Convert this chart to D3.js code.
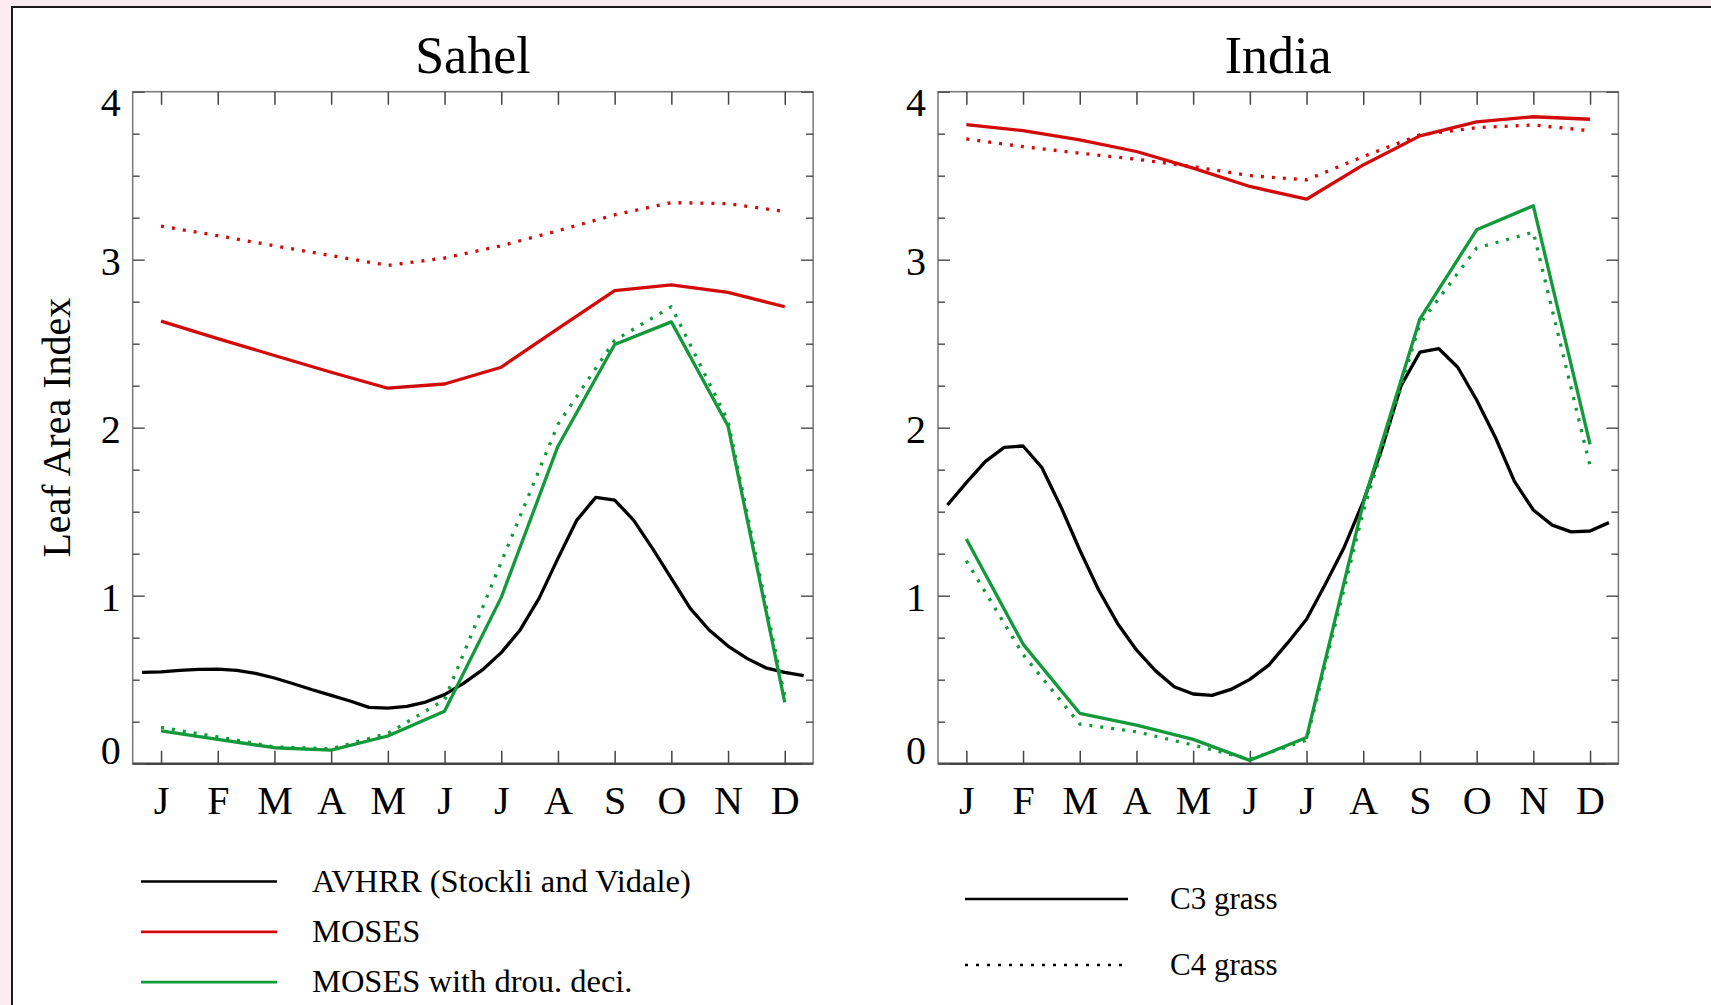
<!DOCTYPE html>
<html>
<head>
<meta charset="utf-8">
<script src="https://cdn.jsdelivr.net/npm/d3@7"></script>
<style>
  html, body { margin: 0; padding: 0; background: #fcecf1; overflow: hidden; }
  svg { display: block; }
  text { font-family: 'Liberation Serif', 'Times New Roman', serif; fill: #000; }
</style>
</head>
<body>
<div id="chart"></div>
<script>
// month tick labels + y ticks
const months = ['J', 'F', 'M', 'A', 'M', 'J', 'J', 'A', 'S', 'O', 'N', 'D'];
const yTicks = [0, 1, 2, 3, 4];

// AVHRR is dekadal: 36 values, first one a third of a month before J
const sahelAvhrr = [0.544, 0.546, 0.556, 0.562, 0.563, 0.556, 0.538, 0.51, 0.476, 0.44,
  0.407, 0.373, 0.335, 0.331, 0.341, 0.367, 0.411, 0.478, 0.558, 0.661,
  0.796, 0.984, 1.222, 1.45, 1.585, 1.569, 1.45, 1.282, 1.103, 0.925,
  0.796, 0.70, 0.627, 0.571, 0.544, 0.524];
const indiaAvhrr = [1.54, 1.673, 1.798, 1.883, 1.891, 1.762, 1.53, 1.272, 1.034, 0.835,
  0.677, 0.554, 0.458, 0.415, 0.407, 0.442, 0.502, 0.587, 0.719, 0.86,
  1.07, 1.29, 1.56, 1.88, 2.25, 2.45, 2.47, 2.36, 2.165, 1.94,
  1.68, 1.51, 1.42, 1.38, 1.385, 1.435];

// MOSES (red), monthly
const sahelMosesC3 = [2.634, 2.53, 2.43, 2.33, 2.235, 2.26, 2.36, 2.59, 2.816, 2.85, 2.806, 2.72];
const sahelMosesC4 = [3.2, 3.143, 3.083, 3.024, 2.966, 3.01, 3.083, 3.172, 3.267, 3.34, 3.333, 3.287];
const indiaMosesC3 = [3.804, 3.768, 3.713, 3.644, 3.545, 3.436, 3.36, 3.564, 3.737, 3.82, 3.851, 3.836];
const indiaMosesC4 = [3.719, 3.673, 3.634, 3.598, 3.554, 3.5, 3.475, 3.614, 3.743, 3.786, 3.802, 3.768];

// MOSES with drought deciduous (green), monthly
const sahelDroughtC3 = [0.196, 0.145, 0.095, 0.081, 0.165, 0.312, 0.99, 1.89, 2.495, 2.63, 2.01, 0.365];
const sahelDroughtC4 = [0.216, 0.16, 0.1, 0.089, 0.18, 0.38, 1.2, 2.02, 2.52, 2.72, 2.04, 0.4];
const indiaDroughtC3 = [1.337, 0.712, 0.30, 0.23, 0.145, 0.02, 0.156, 1.55, 2.648, 3.178, 3.321, 1.901];
const indiaDroughtC4 = [1.208, 0.65, 0.236, 0.19, 0.111, 0.026, 0.14, 1.5, 2.62, 3.069, 3.164, 1.772];

// legends
const seriesLabels = ['AVHRR (Stockli and Vidale)', 'MOSES', 'MOSES with drou. deci.'];
const grassLabels = ['C3 grass', 'C4 grass'];

//////////////////////////////////////////////////////////////////////////////

const width = 1711;
const height = 1005;
const plotTop = 91.7;
const plotBottom = 763.7;
const plotWidth = 680.4;

const red = '#d20a0a';
const green = '#11993a';
const dotted = '3,8';

const svg = d3.select('#chart').append('svg')
  .attr('width', width)
  .attr('height', height);

// outer frame (runs off the right / bottom edge)
svg.append('rect')
  .attr('x', 12).attr('y', 7)
  .attr('width', width).attr('height', height)
  .attr('fill', '#fff')
  .attr('stroke', '#1a1a1a')
  .attr('stroke-width', 2);

const yScale = d3.scaleLinear().domain([0, 4]).range([plotBottom, plotTop]);

const panels = [
  { title: 'Sahel', left: 132.7, avhrr: sahelAvhrr, c3: sahelMosesC3, c4: sahelMosesC4, dc3: sahelDroughtC3, dc4: sahelDroughtC4 },
  { title: 'India', left: 938, avhrr: indiaAvhrr, c3: indiaMosesC3, c4: indiaMosesC4, dc3: indiaDroughtC3, dc4: indiaDroughtC4 }
];

function drawPanel(p) {
  const xScale = d3.scaleLinear()
    .domain([0.5, 12.5])
    .range([p.left, p.left + plotWidth]);

  const g = svg.append('g');

  // title
  g.append('text')
    .attr('x', p.left + plotWidth / 2)
    .attr('y', 73)
    .attr('text-anchor', 'middle')
    .style('font-size', '52px')
    .text(p.title);

  // box
  g.append('rect')
    .attr('x', p.left).attr('y', plotTop)
    .attr('width', plotWidth).attr('height', plotBottom - plotTop)
    .attr('fill', 'none')
    .attr('stroke', '#777')
    .attr('stroke-width', 1.5);
  g.append('line')
    .attr('x1', p.left).attr('x2', p.left + plotWidth)
    .attr('y1', plotBottom).attr('y2', plotBottom)
    .attr('stroke', '#444')
    .attr('stroke-width', 2.5);

  const monthTicks = d3.range(1, 13);

  // bottom axis, ticks pointing in
  g.append('g')
    .attr('transform', `translate(0,${plotBottom})`)
    .call(d3.axisBottom(xScale).tickValues(monthTicks).tickSizeInner(-13).tickSizeOuter(0)
      .tickFormat(d => months[d - 1]))
    .attr('color', '#444')
    .attr('font-size', 40)
    .call(a => a.select('.domain').remove())
    .call(a => a.selectAll('.tick line').attr('stroke-width', 1.5))
    .call(a => a.selectAll('.tick text').attr('y', 50).attr('dy', 0));

  // top axis
  g.append('g')
    .attr('transform', `translate(0,${plotTop})`)
    .call(d3.axisTop(xScale).tickValues(monthTicks).tickSizeInner(-13).tickSizeOuter(0).tickFormat(''))
    .attr('color', '#444')
    .call(a => a.select('.domain').remove())
    .call(a => a.selectAll('.tick line').attr('stroke-width', 1.5));

  const quarterTicks = d3.range(0, 4.001, 0.25);

  // left axis
  g.append('g')
    .attr('transform', `translate(${p.left},0)`)
    .call(d3.axisLeft(yScale).tickValues(quarterTicks).tickSizeInner(-12).tickSizeOuter(0).tickPadding(12)
      .tickFormat(d => yTicks.includes(d) ? d : ''))
    .attr('color', '#555')
    .attr('font-size', 40)
    .call(a => a.select('.domain').remove())
    .call(a => a.selectAll('.tick line')
      .attr('x2', d => Number.isInteger(d) ? 12 : 7)
      .attr('stroke-width', 1.5))
    .call(a => a.selectAll('.tick text')
      .attr('dy', d => d === 0 ? 0 : (d === 4 ? 23.5 : 14.5)));

  // right axis
  g.append('g')
    .attr('transform', `translate(${p.left + plotWidth},0)`)
    .call(d3.axisRight(yScale).tickValues(quarterTicks).tickSizeInner(-12).tickSizeOuter(0).tickFormat(''))
    .attr('color', '#555')
    .call(a => a.select('.domain').remove())
    .call(a => a.selectAll('.tick line')
      .attr('x2', d => Number.isInteger(d) ? -12 : -7)
      .attr('stroke-width', 1.5));

  // lines
  const monthLine = d3.line()
    .x((d, i) => xScale(i + 1))
    .y(d => yScale(d));
  const dekadLine = d3.line()
    .x((d, i) => xScale((i + 2) / 3))
    .y(d => yScale(d));

  const series = [
    { data: p.avhrr, gen: dekadLine, colour: '#000', dash: null },
    { data: p.c4, gen: monthLine, colour: red, dash: dotted },
    { data: p.c3, gen: monthLine, colour: red, dash: null },
    { data: p.dc4, gen: monthLine, colour: green, dash: dotted },
    { data: p.dc3, gen: monthLine, colour: green, dash: null }
  ];

  g.selectAll('path.series')
    .data(series)
    .enter()
    .append('path')
    .attr('class', 'series')
    .attr('d', s => s.gen(s.data))
    .attr('fill', 'none')
    .attr('stroke', s => s.colour)
    .attr('stroke-width', 3.3)
    .attr('stroke-linejoin', 'round')
    .attr('stroke-dasharray', s => s.dash);
}

panels.forEach(drawPanel);

// y label
svg.append('text')
  .attr('transform', `translate(70,${(plotTop + plotBottom) / 2}) rotate(-90)`)
  .attr('text-anchor', 'middle')
  .style('font-size', '40px')
  .text('Leaf Area Index');

// legend -- colours
const legendColours = ['#000', red, green];
seriesLabels.forEach((label, i) => {
  const ly = 881.5 + i * 50.3;
  svg.append('line')
    .attr('x1', 141).attr('x2', 277)
    .attr('y1', ly).attr('y2', ly)
    .attr('stroke', legendColours[i])
    .attr('stroke-width', 2.7);
  svg.append('text')
    .attr('x', 312).attr('y', ly + 10)
    .style('font-size', '32.5px')
    .text(label);
});

// legend -- line styles
grassLabels.forEach((label, i) => {
  const ly = 899 + i * 66;
  svg.append('line')
    .attr('x1', 965).attr('x2', 1128)
    .attr('y1', ly).attr('y2', ly)
    .attr('stroke', '#000')
    .attr('stroke-width', 2.7)
    .attr('stroke-dasharray', i === 1 ? dotted : null);
  svg.append('text')
    .attr('x', 1170).attr('y', ly + 10)
    .style('font-size', '31px')
    .text(label);
});
</script>
</body>
</html>
